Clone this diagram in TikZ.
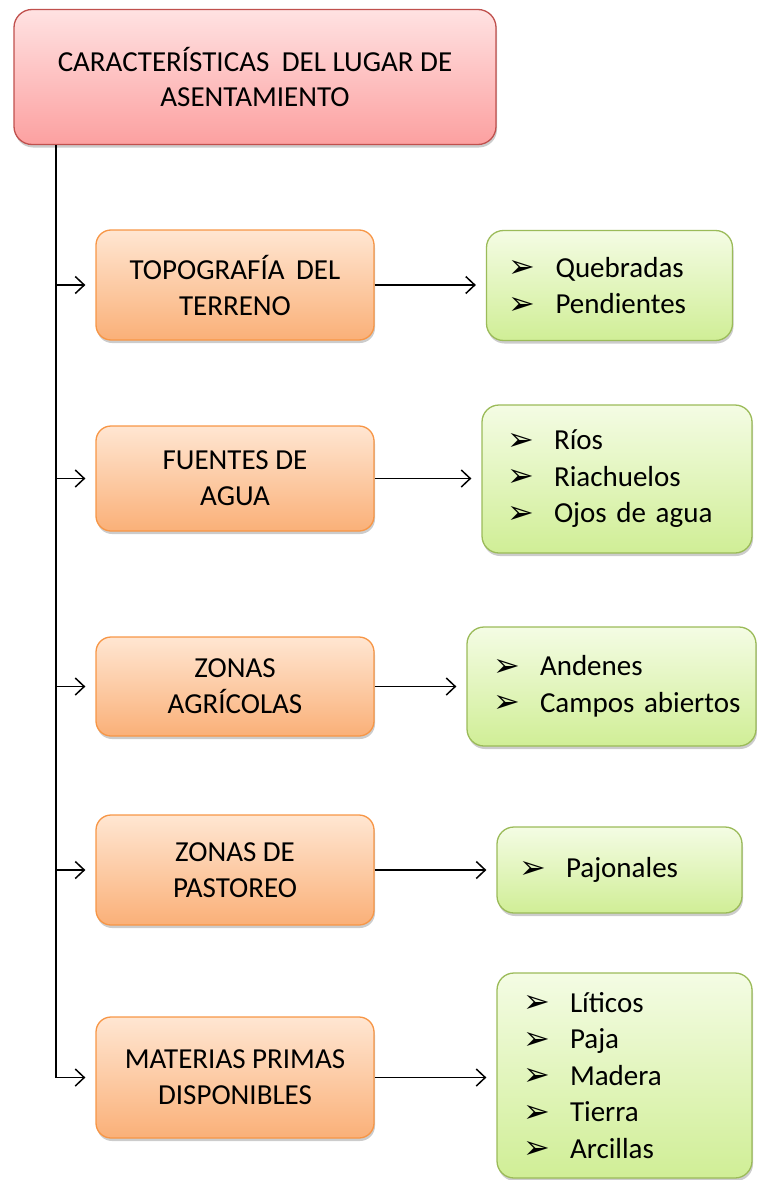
\documentclass[tikz,border=0pt]{standalone}
\usepackage{fontspec}
\setmainfont{Carlito}
\newfontfamily\dejavu{DejaVu Sans}
\usetikzlibrary{arrows.meta,shadows}
\newcommand{\bul}{\makebox[47pt][l]{\raisebox{-0.5pt}{\dejavu\fontsize{32}{32}\selectfont ➢}}}
\definecolor{pinkT}{RGB}{255,226,226}
\definecolor{pinkB}{RGB}{252,160,160}
\definecolor{pinkD}{RGB}{192,80,77}
\definecolor{oraT}{RGB}{255,230,210}
\definecolor{oraB}{RGB}{250,176,120}
\definecolor{oraD}{RGB}{247,150,70}
\definecolor{grT}{RGB}{244,252,228}
\definecolor{grB}{RGB}{208,238,150}
\definecolor{grD}{RGB}{155,187,89}
\tikzset{
  shad/.style={drop shadow={shadow xshift=1pt,shadow yshift=-3pt,opacity=0.2,fill=black}},
  topbox/.style={rectangle,rounded corners=18pt,draw=pinkD,line width=1.3pt,top color=pinkT,bottom color=pinkB,shad,
    align=center,font=\fontsize{29}{35}\selectfont,text=black,inner sep=0pt},
  obox/.style={rectangle,rounded corners=15pt,draw=oraD,line width=1.3pt,top color=oraT,bottom color=oraB,shad,
    minimum width=278pt,align=center,font=\fontsize{29}{36}\selectfont,text=black,inner sep=0pt},
  gbox/.style={rectangle,rounded corners=17pt,draw=grD,line width=1.3pt,top color=grT,bottom color=grB,shad,
    align=left,font=\fontsize{29}{36.5}\selectfont,text=black,inner ysep=0pt},
  arr/.style={line width=1.5pt,-{Straight Barb[length=9pt,width=17pt,line width=1.5pt]},shorten >=10pt},
  trunkline/.style={line width=1.7pt}
}
\begin{document}
\begin{tikzpicture}[x=1pt,y=-1pt]
\useasboundingbox (0,0) rectangle (757,1180);

\node[topbox,minimum width=482pt,minimum height=135pt] (top) at (255,77) {CARACTERÍSTICAS\hspace{6pt} DEL LUGAR DE\\ASENTAMIENTO};

\node[obox,minimum height=110pt] (o1) at (235,285) {TOPOGRAFÍA\hspace{5pt} DEL\\TERRENO};
\node[obox,minimum height=105pt] (o2) at (235,478.5) {FUENTES DE\\AGUA};
\node[obox,minimum height=99pt] (o3) at (235,686.5) {ZONAS\\AGRÍCOLAS};
\node[obox,minimum height=110pt] (o4) at (235,870) {ZONAS DE\\PASTOREO};
\node[obox,minimum height=121pt] (o5) at (235,1077.5) {MATERIAS PRIMAS\\DISPONIBLES};

\node[gbox,minimum width=246pt,minimum height=110pt,inner xsep=22pt,text width=202pt] (g1) at (609.5,285.5)
  {\bul\mbox{Quebradas}\\\bul\mbox{Pendientes}};
\node[gbox,minimum width=270pt,minimum height=148pt,inner xsep=25pt,text width=220pt] (g2) at (617,479)
  {\bul\mbox{Ríos}\\\bul\mbox{Riachuelos}\\\bul\mbox{Ojos de agua}};
\node[gbox,minimum width=289pt,minimum height=119pt,inner xsep=26pt,text width=237pt] (g3) at (611.5,686.5)
  {\bul\mbox{Andenes}\\\bul\mbox{Campos abiertos}};
\node[gbox,minimum width=245pt,minimum height=86pt,inner xsep=22pt,text width=201pt] (g4) at (619.5,870)
  {\bul\mbox{Pajonales}};
\node[gbox,minimum width=255pt,minimum height=205pt,inner xsep=26pt,text width=203pt] (g5) at (624.5,1075.5)
  {\bul\mbox{Líticos}\\\bul\mbox{Paja}\\\bul\mbox{Madera}\\\bul\mbox{Tierra}\\\bul\mbox{Arcillas}};

\coordinate (trunk) at (56,145);
\draw[trunkline] (trunk) -- (trunk |- o5.west);

\foreach \i in {1,...,5}{
  \draw[arr] (trunk |- o\i.west) -- (o\i.west);
  \draw[arr] (o\i.east) -- (g\i.west |- o\i.east);
}
\end{tikzpicture}
\end{document}
